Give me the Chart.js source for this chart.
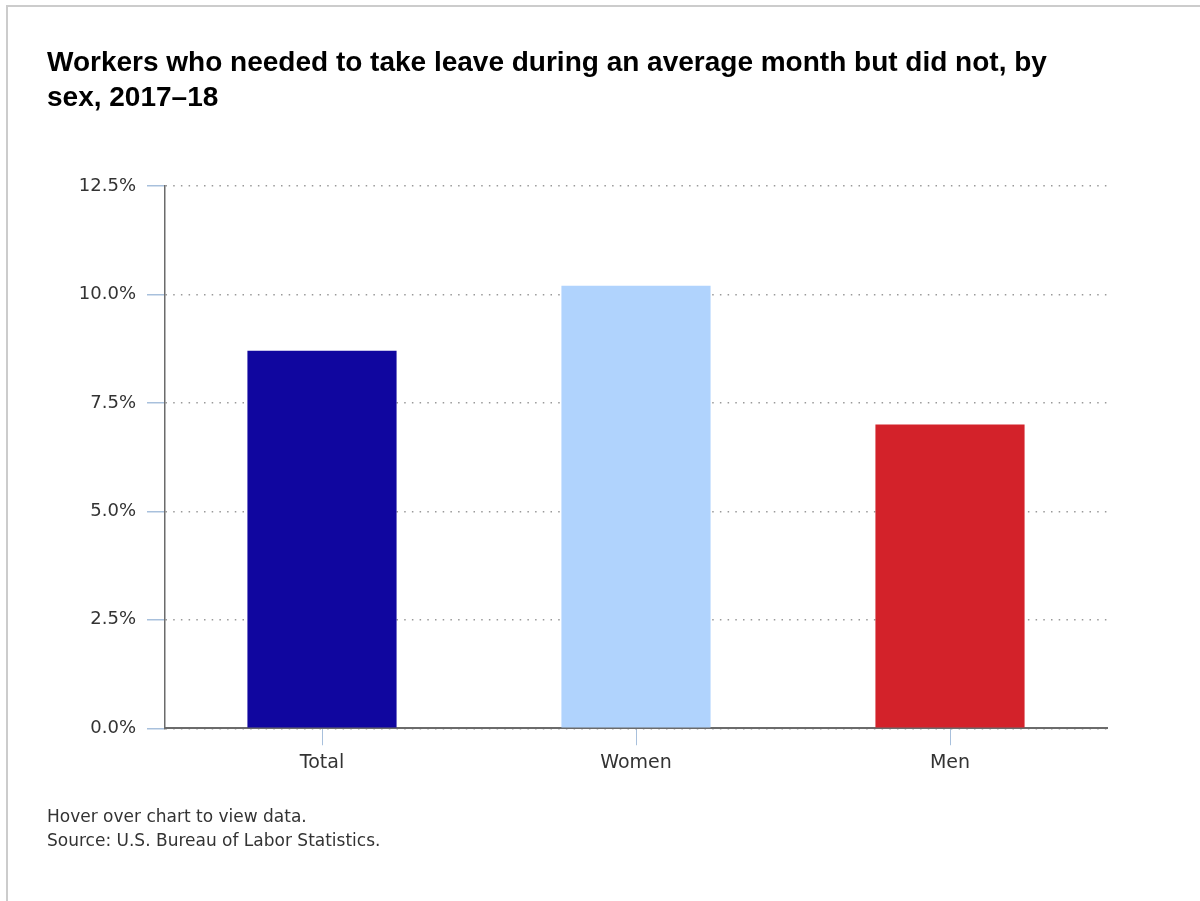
<!doctype html>
<html lang="en">
  <head>
    <meta charset="utf-8">
    <title>Workers who needed to take leave but did not, by sex</title>
    <style>
      * {
        margin: 0;
        padding: 0;
      }
      body {
        width: 1200px;
        height: 901px;
        overflow: hidden;
        background: white;
        position: relative;
      }
      .frame {
        position: absolute;
        left: 6px;
        top: 5px;
        width: 1300px;
        height: 1000px;
        border-left: 2px solid #cccccc;
        border-top: 2px solid #cccccc;
      }
      .chartBox {
        position: absolute;
        left: 0;
        top: 0;
        width: 1200px;
        height: 901px;
      }
    </style>
  </head>
  <body>
    <div class="frame"></div>
    <div class="chartBox">
      <canvas id="myChart"></canvas>
    </div>
    <script src="https://cdn.jsdelivr.net/npm/chart.js/dist/chart.umd.min.js"></script>
    <script>
    // data
    const categories = ['Total', 'Women', 'Men'];
    const shareNotTaken = [8.7, 10.2, 7.0];
    const barColors = ['#10069f', '#b0d3fd', '#d3222a'];
    const yTicks = [0, 2.5, 5, 7.5, 10, 12.5];

    const titleLines = [
      'Workers who needed to take leave during an average month but did not, by',
      'sex, 2017\u201318'
    ];
    const footerLines = [
      'Hover over chart to view data.',
      'Source: U.S. Bureau of Labor Statistics.'
    ];

    const data = {
      labels: categories,
      datasets: [{
        label: 'Percent',
        data: shareNotTaken,
        backgroundColor: barColors,
        borderWidth: 0,
        barPercentage: 0.475,
        categoryPercentage: 1
      }]
    };

    const config = {
      type: 'bar',
      data,
      options: {
        responsive: false,
        animation: false,
        layout: {
          padding: { left: 47, right: 93, top: 0, bottom: 47 }
        },
        plugins: {
          legend: { display: false },
          tooltip: { enabled: false },
          title: {
            display: true,
            align: 'start',
            text: titleLines,
            color: '#000000',
            font: { family: '"Liberation Sans", Arial, sans-serif', size: 28, weight: 'bold', lineHeight: 1.25 },
            padding: { top: 45.5, bottom: 70.5 }
          },
          subtitle: {
            display: true,
            position: 'bottom',
            align: 'start',
            text: footerLines,
            color: '#333333',
            font: { family: '"DejaVu Sans", sans-serif', size: 17, lineHeight: 1.41 },
            padding: { top: 26, bottom: 0 }
          }
        },
        scales: {
          x: {
            grid: {
              display: true,
              drawOnChartArea: false,
              offset: false,
              tickColor: '#a8c0dc',
              tickLength: 17,
              tickWidth: 1
            },
            border: { display: true, color: '#6b6b6b', width: 2 },
            ticks: {
              color: '#333333',
              padding: 6,
              font: { family: '"DejaVu Sans", sans-serif', size: 19 }
            }
          },
          y: {
            min: 0,
            max: 12.5,
            afterBuildTicks: function(scale) {
              scale.ticks = yTicks.map(v => ({ value: v }));
            },
            afterFit: function(scale) {
              scale.width = 118;
            },
            grid: {
              color: '#999999',
              lineWidth: 1.5,
              tickColor: '#a8c0dc',
              tickLength: 18,
              tickWidth: 1.5,
              tickBorderDash: []
            },
            border: { display: true, color: '#6b6b6b', width: 1.5, dash: [1.5, 6.2] },
            ticks: {
              color: '#333333',
              padding: 11,
              font: { family: '"DejaVu Sans", sans-serif', size: 18 },
              callback: function(value) {
                return Number(value).toFixed(1) + '%';
              }
            }
          }
        }
      }
    };

    const canvas = document.getElementById('myChart');
    canvas.width = 1200;
    canvas.height = 901;
    const myChart = new Chart(canvas, config);
    </script>
  </body>
</html>
